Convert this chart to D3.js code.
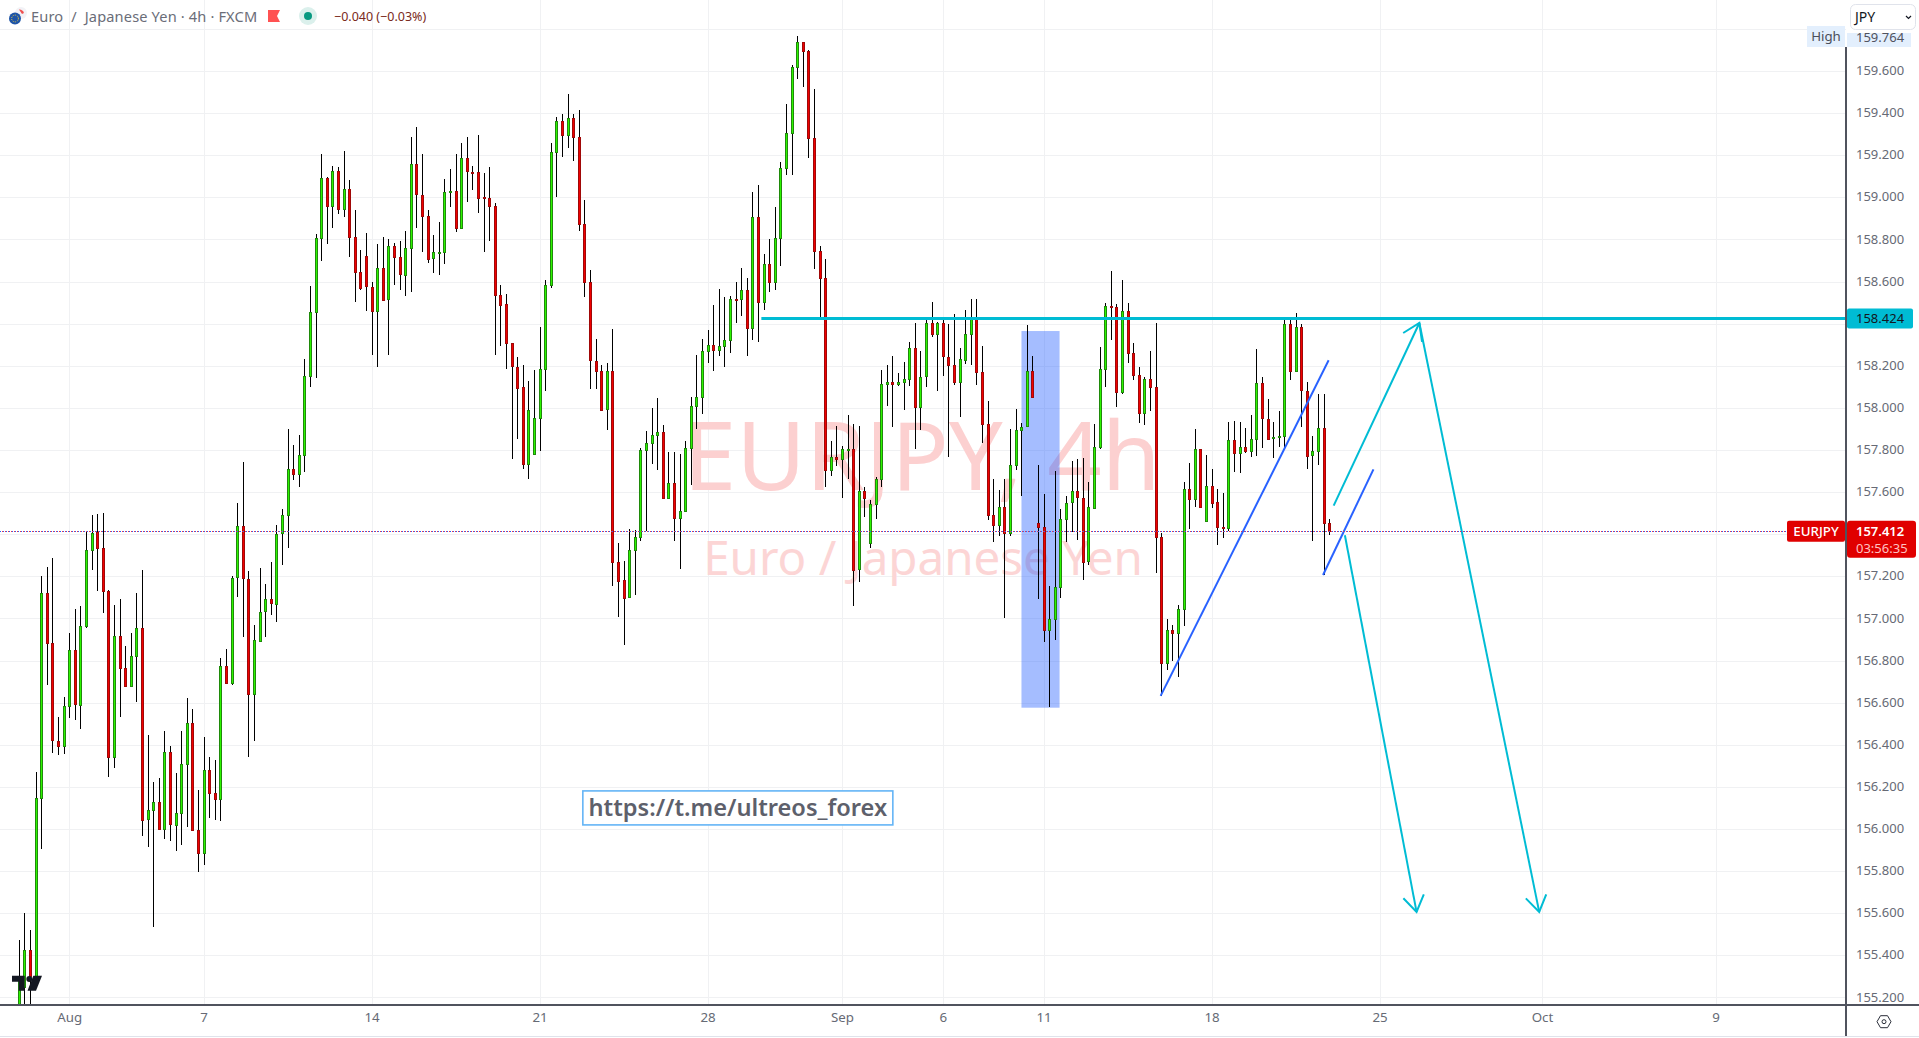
<!DOCTYPE html>
<html><head><meta charset="utf-8">
<script src="https://cdnjs.cloudflare.com/ajax/libs/d3/7.8.5/d3.min.js"></script>
<style>html,body{margin:0;padding:0;background:#fff;overflow:hidden}svg{display:block;font-family:"Noto Sans",sans-serif}</style>
</head><body><svg id="c" width="1919" height="1038"></svg>
<script>
const opens=[155.12,155.251,155.427,155.30,156.146,157.122,156.883,156.42,156.397,156.585,
156.851,156.593,156.966,157.327,157.41,157.336,157.131,156.344,156.917,156.764,
156.678,156.822,156.956,156.044,156.088,156.127,155.997,156.364,156.02,156.075,
156.308,156.503,155.997,155.888,156.28,156.173,156.144,156.775,156.693,157.193,
157.437,157.188,156.641,156.895,157.032,157.09,157.069,157.403,157.49,157.708,
157.684,157.775,158.148,158.453,158.806,159.091,158.956,159.123,158.942,159.039,
158.813,158.647,158.72,158.576,158.462,158.664,158.513,158.767,158.715,158.633,
158.759,159.157,159.013,158.913,158.71,158.736,158.738,159.023,159.028,158.852,
159.186,159.122,159.122,159.0,158.998,158.961,158.538,158.491,158.306,158.196,
158.097,157.731,157.778,157.951,158.184,158.582,159.213,159.361,159.293,159.376,
159.285,158.871,158.596,158.224,158.177,157.992,158.174,157.269,157.183,157.099,
157.324,157.386,157.801,157.833,157.87,157.884,157.57,157.643,157.475,157.51,
157.808,158.008,158.051,158.27,158.299,158.273,158.293,158.32,158.518,158.515,
158.559,158.377,158.906,158.5,158.682,158.597,158.806,159.138,159.306,159.618,
159.738,159.695,159.28,158.744,158.615,157.703,157.766,157.755,157.804,157.807,
157.234,157.604,157.357,157.543,157.663,158.113,158.122,158.113,158.122,158.133,
158.284,158.005,158.147,158.401,158.351,158.401,158.242,158.204,158.123,158.23,
158.353,158.429,158.171,157.924,157.49,157.444,157.531,157.408,157.731,157.897,
157.91,158.173,157.455,157.435,156.947,156.999,157.151,157.474,157.55,157.603,
157.573,157.269,157.527,157.816,158.187,158.486,158.481,158.076,158.462,158.261,
158.157,157.976,158.139,158.1,157.387,156.789,156.947,156.931,157.047,157.617,
157.568,157.807,157.465,157.631,157.552,157.432,157.428,157.846,157.783,157.813,
157.796,157.851,158.117,157.949,157.854,157.861,157.865,158.397,158.176,158.383,
158.082,157.774,157.794,157.903,157.452];
const highs=[155.471,155.603,155.522,156.271,157.2,157.242,157.285,156.534,156.629,156.929,
157.044,157.061,157.415,157.492,157.495,157.5,157.137,157.066,157.093,156.869,
156.932,157.122,157.232,156.446,156.222,156.241,156.466,156.392,156.264,156.466,
156.624,156.569,156.186,156.439,156.342,156.329,156.81,156.853,157.2,157.546,
157.745,157.227,156.968,157.239,157.163,157.268,157.442,157.522,157.9,157.824,
157.87,158.23,158.577,158.825,159.205,159.096,159.149,159.142,159.218,159.083,
158.94,158.75,158.832,158.598,158.779,158.811,158.801,158.784,158.793,158.84,
159.286,159.334,159.205,158.94,158.822,158.883,159.086,159.135,159.205,159.258,
159.286,159.149,159.297,159.115,159.144,158.974,158.584,158.54,158.308,158.241,
158.204,158.128,158.18,158.384,158.608,159.258,159.381,159.395,159.492,159.395,
159.415,158.986,158.654,158.326,158.204,158.213,158.374,157.358,157.272,157.423,
157.419,157.808,157.89,157.999,158.046,157.917,157.79,157.79,157.781,157.844,
158.053,158.251,158.326,158.371,158.49,158.566,158.528,158.531,158.599,158.666,
158.619,159.027,159.06,158.731,158.804,158.955,159.167,159.444,159.627,159.764,
159.738,159.702,159.515,158.768,158.706,157.844,157.913,157.817,157.966,157.924,
157.913,157.626,157.563,157.67,158.181,158.202,158.248,158.166,158.217,158.312,
158.405,158.269,158.42,158.502,158.41,158.432,158.397,158.445,158.282,158.464,
158.519,158.516,158.293,158.032,157.66,157.609,157.66,157.899,157.997,157.93,
158.393,158.245,157.728,157.59,157.153,157.699,157.522,157.582,157.75,157.756,
157.761,157.647,157.922,158.288,158.496,158.652,158.492,158.607,158.5,158.306,
158.192,158.149,158.269,158.405,157.408,156.995,156.968,157.063,157.647,157.74,
157.899,157.807,157.775,157.709,157.617,157.595,157.932,157.937,157.932,157.905,
157.965,158.28,158.146,158.041,157.932,157.986,158.431,158.416,158.45,158.399,
158.122,157.865,158.065,158.066,157.473];
const lows=[155.05,155.10,155.08,155.28,155.907,156.683,156.359,156.349,156.354,156.525,
156.517,156.473,156.954,157.231,157.131,157.025,156.249,156.288,156.531,156.678,
156.678,156.602,155.968,155.912,155.536,155.997,155.954,155.942,155.895,155.925,
156.01,155.997,155.797,155.831,156.053,156.044,156.036,156.693,156.683,157.102,
156.912,156.344,156.417,156.886,156.912,157.017,156.983,157.254,157.336,157.659,
157.626,157.697,158.101,158.14,158.699,158.776,158.855,158.923,158.908,158.716,
158.501,158.56,158.462,158.253,158.192,158.508,158.253,158.584,158.56,158.533,
158.55,158.852,158.738,158.689,158.642,158.632,158.684,158.954,158.835,158.852,
158.979,159.035,158.927,158.738,158.793,158.253,158.294,158.187,157.758,157.853,
157.71,157.66,157.778,157.795,158.082,158.57,159.003,159.191,159.232,159.174,
158.842,158.525,158.092,158.092,157.985,157.895,157.156,157.008,156.876,157.099,
157.112,157.368,157.414,157.732,157.703,157.57,157.566,157.368,157.237,157.504,
157.635,157.902,157.973,158.211,158.173,158.248,158.193,158.259,158.402,158.435,
158.244,158.324,158.311,158.464,158.549,158.56,158.673,159.104,159.104,159.56,
159.522,159.186,158.66,158.415,157.623,157.675,157.726,157.57,157.663,157.057,
157.175,157.481,157.334,157.47,157.623,158.008,157.908,158.102,157.988,158.103,
157.804,157.894,158.1,158.337,158.081,158.152,157.767,158.108,157.957,158.209,
158.204,158.108,157.834,157.466,157.364,157.39,157.003,157.392,157.704,157.58,
157.91,158.047,157.091,156.889,156.58,156.898,157.098,157.364,157.411,157.371,
157.183,157.253,157.525,157.807,158.1,158.321,158.005,158.065,158.214,158.131,
157.929,157.919,157.986,157.216,156.631,156.757,156.797,156.722,156.965,157.425,
157.53,157.53,157.465,157.525,157.348,157.384,157.413,157.696,157.691,157.788,
157.769,157.772,157.81,157.854,157.764,157.815,157.804,158.133,158.176,157.907,
157.71,157.37,157.729,157.205,157.397];
const closes=[155.293,155.427,155.302,156.146,157.122,156.883,156.42,156.397,156.585,156.851,
156.593,156.966,157.327,157.408,157.336,157.131,156.344,156.917,156.764,156.678,
156.822,156.956,156.044,156.088,156.127,155.997,156.364,156.02,156.075,156.308,
156.503,155.997,155.888,156.28,156.173,156.144,156.775,156.693,157.193,157.437,
157.188,156.641,156.898,157.032,157.09,157.069,157.403,157.49,157.708,157.683,
157.775,158.15,158.453,158.806,159.091,158.956,159.123,158.942,159.039,158.813,
158.647,158.572,158.576,158.462,158.664,158.513,158.767,158.715,158.633,158.759,
159.157,159.013,158.913,158.71,158.738,158.738,159.023,159.028,158.852,159.186,
159.122,159.12,159.0,158.998,158.961,158.538,158.491,158.306,158.196,158.097,
157.731,157.989,157.951,158.184,158.582,159.213,159.361,159.293,159.376,159.285,
158.871,158.596,158.224,158.177,157.99,158.174,157.269,157.179,157.099,157.324,
157.386,157.801,157.833,157.87,157.884,157.57,157.643,157.475,157.51,157.808,
158.008,158.051,158.27,158.299,158.273,158.293,158.32,158.517,158.515,158.559,
158.377,158.906,158.5,158.682,158.597,158.806,159.138,159.306,159.618,159.738,
159.693,159.28,158.744,158.615,157.703,157.766,157.755,157.804,157.807,157.234,
157.604,157.57,157.543,157.663,158.113,158.122,158.113,158.122,158.137,158.282,
158.005,158.149,158.401,158.351,158.401,158.242,158.204,158.123,158.23,158.353,
158.429,158.171,157.924,157.49,157.444,157.531,157.408,157.731,157.897,157.91,
158.173,158.049,157.435,156.947,156.999,157.151,157.474,157.55,157.603,157.573,
157.269,157.527,157.816,158.187,158.486,158.481,158.076,158.462,158.261,158.157,
157.976,158.139,158.1,157.387,156.789,156.947,156.931,157.047,157.617,157.568,
157.807,157.53,157.631,157.549,157.432,157.43,157.846,157.783,157.813,157.796,
157.851,158.117,157.949,157.854,157.861,157.865,158.397,158.176,158.383,158.082,
157.774,157.794,157.903,157.451,157.412];
const timeTickBars=[9,33,63,93,123,147,165,183,213,243,272,303];
const timeTickLabels=["Aug","7","14","21","28","Sep","6","11","18","25","Oct","9"];
const priceTicks=[159.6,159.4,159.2,159.0,158.8,158.6,158.2,158.0,157.8,157.6,157.2,157.0,156.8,156.6,156.4,156.2,156.0,155.8,155.6,155.4,155.2];
const gridPrices=[159.8,159.6,159.4,159.2,159.0,158.8,158.6,158.4,158.2,158.0,157.8,157.6,157.4,157.2,157.0,156.8,156.6,156.4,156.2,156.0,155.8,155.6,155.4,155.2];
const lastPrice=157.412, highPrice=159.764, levelPrice=158.424;
const levelStartBar=132.6;
const zoneBars=[179.05,185.85], zonePrices=[158.365,156.576];
const blueLines=[[[203.9,156.632],[233.9,158.226]],[[232.9,157.206],[241.9,157.708]]];
const cyanArrows=[[[234.8,157.536],[250.1,158.403]],[[250.1,158.403],[271.5,155.606]],[[236.8,157.395],[249.6,155.606]]];
const noteAnchor=[128.4,156.1];

const W=1919,H=1038,axisX=1846,axisY=1005;
const x=d3.scaleLinear().domain([0,100]).range([18.8,578.8]);
const y=d3.scaleLinear().domain([159.6,155.2]).range([71,997.4]);
const svg=d3.select("#c");
const defs=svg.append("defs");
defs.append("clipPath").attr("id","pane").append("rect").attr("width",axisX).attr("height",axisY);
const snap=v=>Math.round(v)+0.5;

// grid
const grid=svg.append("g").attr("shape-rendering","crispEdges").attr("stroke","#f0f1f3");
grid.selectAll(".h").data(gridPrices).join("line").attr("x1",0).attr("x2",axisX).attr("y1",d=>snap(y(d))).attr("y2",d=>snap(y(d)));
grid.selectAll(".v").data(timeTickBars).join("line").attr("y1",0).attr("y2",axisY).attr("x1",d=>snap(x(d))).attr("x2",d=>snap(x(d)));

// watermark
svg.append("text").attr("x",922).attr("y",490).attr("text-anchor","middle").attr("font-size",95.3).attr("fill","#fcd0d0").text("EURJPY, 4h");
svg.append("text").attr("x",923).attr("y",575).attr("text-anchor","middle").attr("font-size",47.5).attr("fill","#fcd5d5").text("Euro / Japanese Yen");

const pane=svg.append("g").attr("clip-path","url(#pane)");
// highlighted zone
pane.append("rect").attr("x",x(zoneBars[0])).attr("width",x(zoneBars[1])-x(zoneBars[0])).attr("y",y(zonePrices[0])).attr("height",y(zonePrices[1])-y(zonePrices[0])).attr("fill","#2962ff").attr("fill-opacity",0.42);

// candles
const idx=d3.range(opens.length);
const candles=pane.append("g").attr("shape-rendering","crispEdges");
candles.selectAll("line").data(idx).join("line")
 .attr("x1",i=>snap(x(i))).attr("x2",i=>snap(x(i)))
 .attr("y1",i=>y(highs[i])).attr("y2",i=>y(lows[i])).attr("stroke","#000");
candles.selectAll("rect").data(idx).join("rect")
 .attr("x",i=>snap(x(i))-1)
 .attr("width",2)
 .attr("y",i=>snap(y(Math.max(opens[i],closes[i]))))
 .attr("height",i=>Math.max(1,Math.round(Math.abs(y(opens[i])-y(closes[i])))))
 .attr("fill",i=>closes[i]>=opens[i]?"#2cf500":"#f00000")
 .attr("stroke",i=>closes[i]>=opens[i]?"#1f8a0a":"#a00808");

// current price dotted line
const dash=[["#2962ff",0],["#f23645",1]];
dash.forEach(d=>svg.append("line").attr("x1",0).attr("x2",1787).attr("y1",snap(y(lastPrice))-1).attr("y2",snap(y(lastPrice))-1).attr("stroke",d[0]).attr("stroke-dasharray","1 2").attr("stroke-dashoffset",d[1]).attr("shape-rendering","crispEdges"));

// drawings
const toPx=p=>[x(p[0]),y(p[1])];
const lineGen=d3.line();
pane.append("line").attr("x1",x(levelStartBar)).attr("x2",axisX).attr("y1",y(levelPrice)).attr("y2",y(levelPrice)).attr("stroke","#00bcd4").attr("stroke-width",3);
blueLines.forEach(l=>pane.append("path").attr("d",lineGen(l.map(toPx))).attr("fill","none").attr("stroke","#2962ff").attr("stroke-width",2));
cyanArrows.forEach(l=>{
  const a=toPx(l[0]),b=toPx(l[1]);
  const ang=Math.atan2(b[1]-a[1],b[0]-a[0]),len=19,sp=0.58;
  const w1=[b[0]-len*Math.cos(ang-sp),b[1]-len*Math.sin(ang-sp)],w2=[b[0]-len*Math.cos(ang+sp),b[1]-len*Math.sin(ang+sp)];
  const g=pane.append("g").attr("fill","none").attr("stroke","#00bcd4").attr("stroke-width",2);
  g.append("path").attr("d",lineGen([a,b]));
  g.append("path").attr("d",lineGen([w1,b,w2]));
});

// note box
const nx=x(noteAnchor[0]),ny=y(noteAnchor[1]);
pane.append("rect").attr("x",nx-155).attr("y",ny-17).attr("width",310).attr("height",34).attr("fill","#fff").attr("stroke","#64b5f6").attr("stroke-width",1.6);
pane.append("text").attr("x",nx).attr("y",ny+8).attr("text-anchor","middle").attr("font-size",23.6).attr("font-weight",600).attr("fill","#5d606b").text("https://t.me/ultreos_forex");

// logo
const logo=svg.append("g").attr("fill","#131722");
logo.append("path").attr("d","M12 975.7H24.7V990.7H18.7V981.7H12Z");
logo.append("circle").attr("cx",29.3).attr("cy",979).attr("r",3);
logo.append("path").attr("d","M33.3 975.7H42L36 990.7H27.5Z");

// axes
const yAxis=d3.axisRight(y).tickValues(priceTicks).tickFormat(d3.format(".3f")).tickSize(0).tickPadding(0);
const gy=svg.append("g").attr("transform",`translate(${axisX+10},-0.5)`).call(yAxis);
gy.select(".domain").remove();
gy.selectAll("text").attr("font-size",13).attr("font-family","'Noto Sans',sans-serif").attr("fill","#666a75");
const xAxis=d3.axisBottom(x).tickValues(timeTickBars).tickFormat((d,i)=>timeTickLabels[i]).tickSize(0).tickPadding(0);
const gx=svg.append("g").attr("transform",`translate(0,${axisY+8})`).call(xAxis);
gx.select(".domain").remove();
gx.selectAll("text").attr("font-size",13.3).attr("font-family","'Noto Sans',sans-serif").attr("fill","#666a75");

const frame=svg.append("g").attr("stroke","#50535e").attr("stroke-width",1.4).attr("shape-rendering","crispEdges");
frame.append("line").attr("x1",0).attr("x2",W).attr("y1",axisY).attr("y2",axisY);
frame.append("line").attr("x1",axisX).attr("x2",axisX).attr("y1",47).attr("y2",H-1);
svg.append("line").attr("x1",0).attr("x2",W).attr("y1",H-1.5).attr("y2",H-1.5).attr("stroke","#e0e3eb");

// gear
const gear=svg.append("g").attr("transform","translate(1884,1021.7)").attr("fill","none").attr("stroke","#2a2e39").attr("stroke-width",1);
gear.append("path").attr("d","M-7 0L-3.5-6H3.5L7 0L3.5 6H-3.5Z");
gear.append("circle").attr("r",2);

// level label
const lvlY=y(levelPrice);
svg.append("rect").attr("x",axisX+1).attr("y",lvlY-10).attr("width",66).attr("height",20).attr("rx",2).attr("fill","#00bcd4");
svg.append("text").attr("x",axisX+10).attr("y",lvlY+4.6).attr("font-size",13).attr("fill","#131722").text(d3.format(".3f")(levelPrice));

// high labels
const hY=y(highPrice);
svg.append("rect").attr("x",1807).attr("y",26).attr("width",38).attr("height",21).attr("fill","#e3effd");
svg.append("text").attr("x",1826).attr("y",40.5).attr("text-anchor","middle").attr("font-size",13.3).attr("fill","#4a4e5a").text("High");
svg.append("rect").attr("x",axisX+1).attr("y",30).attr("width",64).attr("height",17).attr("fill","#e3effd");
svg.append("text").attr("x",axisX+10).attr("y",hY+5.2).attr("font-size",13).attr("fill","#50535e").text(d3.format(".3f")(highPrice));

// currency box, which covers the top of the high label
svg.append("rect").attr("x",axisX+1).attr("y",0).attr("width",W-axisX-1).attr("height",33).attr("fill","#fff");
svg.append("rect").attr("x",1850.5).attr("y",4.5).attr("width",65).attr("height",25).attr("rx",5).attr("fill","#fff").attr("stroke","#e0e3eb");
svg.append("text").attr("x",1855).attr("y",22).attr("font-size",14).attr("fill","#131722").text("JPY");
svg.append("path").attr("d","M1906 16l2.5 2.5l2.5-2.5").attr("fill","none").attr("stroke","#131722").attr("stroke-width",1.2);

// last price labels
const pY=y(lastPrice);
svg.append("rect").attr("x",1787).attr("y",pY-11).attr("width",58).attr("height",21).attr("rx",2).attr("fill","#e00000");
svg.append("text").attr("x",1816).attr("y",pY+4.4).attr("text-anchor","middle").attr("font-size",13.3).attr("font-weight",500).attr("fill","#fff").text("EURJPY");
svg.append("rect").attr("x",axisX+1).attr("y",pY-11).attr("width",69).attr("height",37).attr("rx",3).attr("fill","#e00000");
svg.append("text").attr("x",axisX+10).attr("y",pY+4.6).attr("font-size",13).attr("font-weight",600).attr("fill","#fff").text(d3.format(".3f")(lastPrice));
svg.append("text").attr("x",axisX+10).attr("y",pY+21.6).attr("font-size",13).attr("fill","#ffc2c2").text("03:56:35");

// legend
const eu=svg.append("g");
eu.append("circle").attr("cx",21).attr("cy",13).attr("r",6).attr("fill","#f2f2f6");
eu.append("path").attr("d","M19 9.5a5 5 0 0 1 5 3.5l-2 1z").attr("fill","#f0504f");
eu.append("circle").attr("cx",15).attr("cy",18.5).attr("r",6).attr("fill","#1d54a8");
eu.append("circle").attr("cx",15).attr("cy",18.5).attr("r",3.4).attr("fill","none").attr("stroke","#f5cf3a").attr("stroke-width",1).attr("stroke-dasharray","1 1.2");
svg.append("text").attr("x",31).attr("y",22).attr("font-size",14.6).attr("letter-spacing",0.15).attr("fill","#6a6d78").attr("xml:space","preserve").text("Euro  /  Japanese Yen · 4h · FXCM");
svg.append("path").attr("d","M268 10H280L277 16L280 22H268Z").attr("fill","#ff5252");
svg.append("circle").attr("cx",308).attr("cy",16).attr("r",9).attr("fill","#dbf0ec");
svg.append("circle").attr("cx",308).attr("cy",16).attr("r",4).attr("fill","#089981");
svg.append("text").attr("x",334).attr("y",21).attr("font-size",12.5).attr("fill","#7a2a20").text("−0.040 (−0.03%)");
</script></body></html>
